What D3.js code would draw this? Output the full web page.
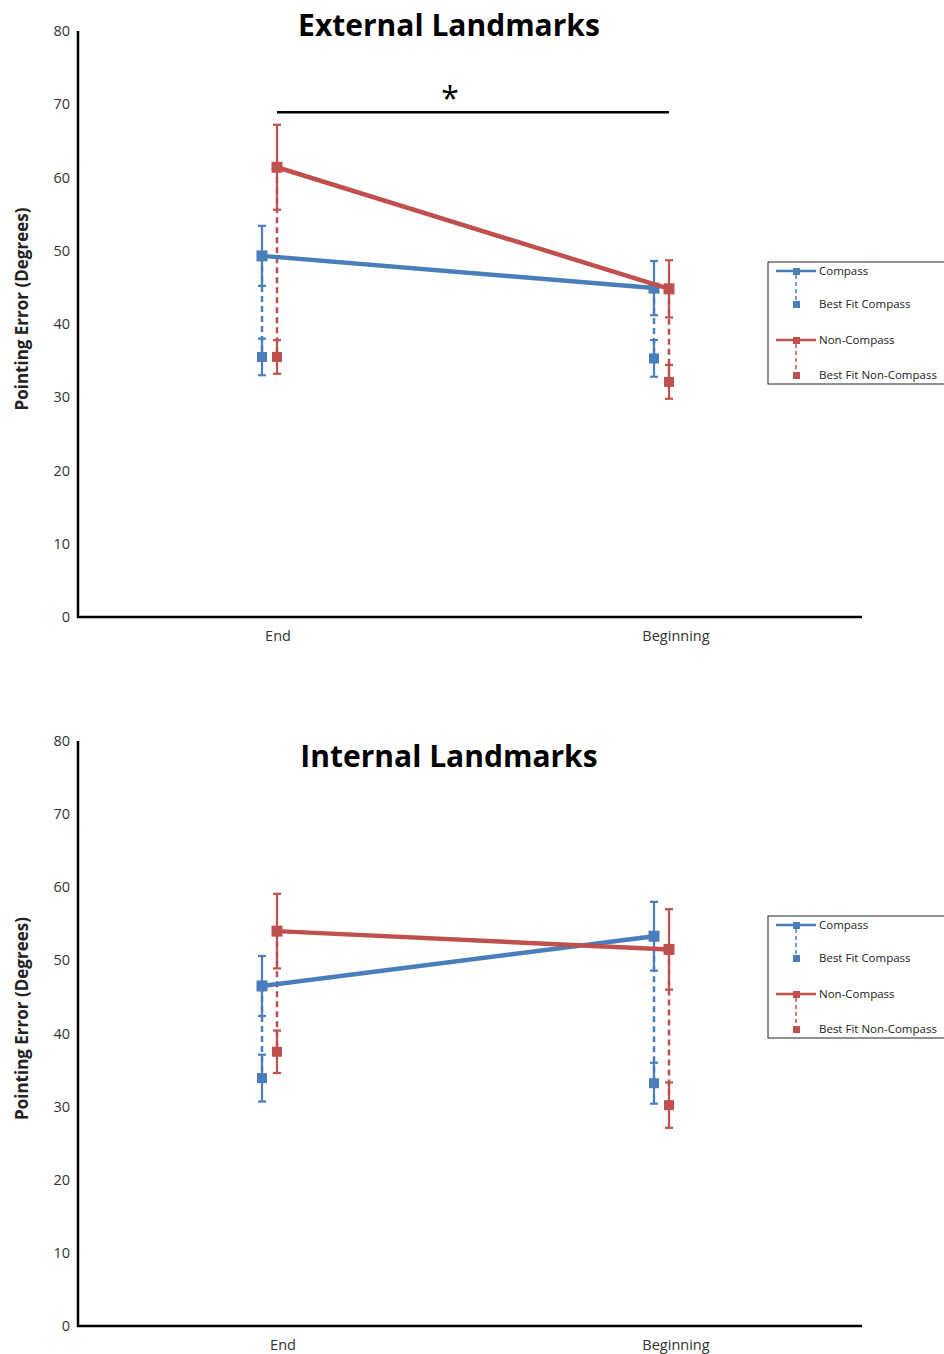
<!DOCTYPE html>
<html>
<head>
<meta charset="utf-8">
<script src="https://cdn.jsdelivr.net/npm/d3@7"></script>
<style>
  body { margin: 0; background: #fff; }
  text { font-family: "Open Sans", "Noto Sans", sans-serif; }
</style>
</head>
<body>
<div id="chart"></div>
<script>
// values
var categories = ['End', 'Beginning'];
var yTicks = [0, 10, 20, 30, 40, 50, 60, 70, 80];
var legendNames = ['Compass', 'Best Fit Compass', 'Non-Compass', 'Best Fit Non-Compass'];

var extCompass = [49.3, 44.9];
var extCompassErr = [4.1, 3.7];
var extCompassFit = [35.5, 35.3];
var extCompassFitErr = [2.5, 2.5];
var extNonCompass = [61.4, 44.8];
var extNonCompassErr = [5.8, 3.9];
var extNonCompassFit = [35.5, 32.1];
var extNonCompassFitErr = [2.3, 2.3];

var intCompass = [46.5, 53.3];
var intCompassErr = [4.1, 4.7];
var intCompassFit = [33.9, 33.2];
var intCompassFitErr = [3.2, 2.8];
var intNonCompass = [54.0, 51.5];
var intNonCompassErr = [5.1, 5.5];
var intNonCompassFit = [37.5, 30.2];
var intNonCompassFitErr = [2.9, 3.1];

var sigLevel = 68.9;  // the '*' bar in the top panel

var blue = '#4a7ebb', red = '#c0504d';

var svg = d3.select('#chart').append('svg')
  .attr('width', 944)
  .attr('height', 1354);

function panel(opts){
  var g = svg.append('g');
  var y = d3.scaleLinear().domain([0, 80]).range([opts.bottom, opts.top]);
  var x = d3.scalePoint().domain(categories).range([78, 862]).padding(0.5);

  // axes
  g.append('line').attr('x1', 78).attr('x2', 78)
    .attr('y1', y(80)).attr('y2', y(0) + 1)
    .attr('stroke', '#000').attr('stroke-width', 2.5);
  g.append('line').attr('x1', 77).attr('x2', 862)
    .attr('y1', y(0)).attr('y2', y(0))
    .attr('stroke', '#000').attr('stroke-width', 2.5);

  g.selectAll('text.ytick').data(yTicks).enter().append('text')
    .classed('ytick', true)
    .attr('x', 70).attr('y', function(d){return y(d);})
    .attr('dy', '0.35em').attr('text-anchor', 'end')
    .attr('font-size', 14.5).attr('fill', '#333')
    .text(function(d){return d;});

  g.selectAll('text.xtick').data(categories).enter().append('text')
    .classed('xtick', true)
    .attr('x', function(d){return x(d) + opts.labelShift[categories.indexOf(d)];})
    .attr('y', y(0) + 24)
    .attr('text-anchor', 'middle')
    .attr('font-size', 14.5).attr('fill', '#333')
    .text(function(d){return d;});

  g.append('text')
    .attr('transform', 'translate(28,' + ((y(0) + y(80)) / 2 - 15) + ') rotate(-90)')
    .attr('text-anchor', 'middle')
    .attr('font-size', 17).attr('font-weight', 'bold').attr('fill', '#222')
    .text('Pointing Error (Degrees)');

  g.append('text')
    .attr('x', 449).attr('y', opts.titleY)
    .attr('text-anchor', 'middle')
    .attr('font-size', 30).attr('font-weight', 'bold').attr('fill', '#000')
    .text(opts.title);

  // series: mean with error bars, dashed drop to best fit
  opts.series.forEach(function(s){
    categories.forEach(function(c, i){
      var cx = x(c) + s.dx;
      g.append('line').attr('x1', cx).attr('x2', cx)
        .attr('y1', y(s.mean[i])).attr('y2', y(s.fit[i]))
        .attr('stroke', s.color).attr('stroke-width', 2.5)
        .attr('stroke-dasharray', '6,4');
      [[s.mean[i], s.err[i]], [s.fit[i], s.fitErr[i]]].forEach(function(p){
        var lo = y(p[0] - p[1]), hi = y(p[0] + p[1]);
        g.append('line').attr('x1', cx).attr('x2', cx).attr('y1', lo).attr('y2', hi)
          .attr('stroke', s.color).attr('stroke-width', 2.2);
        [lo, hi].forEach(function(yy){
          g.append('line').attr('x1', cx - 4).attr('x2', cx + 4).attr('y1', yy).attr('y2', yy)
            .attr('stroke', s.color).attr('stroke-width', 2.2);
        });
      });
    });
  });
  opts.series.forEach(function(s){
    var line = d3.line()
      .x(function(d, i){return x(categories[i]) + s.dx;})
      .y(function(d){return y(d);});
    g.append('path').datum(s.mean).attr('d', line)
      .attr('fill', 'none').attr('stroke', s.color).attr('stroke-width', 4.5);
    g.selectAll(null).data(s.mean).enter().append('rect')
      .attr('x', function(d, i){return x(categories[i]) + s.dx - 5.5;})
      .attr('y', function(d){return y(d) - 5.5;})
      .attr('width', 11).attr('height', 11).attr('fill', s.color);
    g.selectAll(null).data(s.fit).enter().append('rect')
      .attr('x', function(d, i){return x(categories[i]) + s.dx - 5;})
      .attr('y', function(d){return y(d) - 5;})
      .attr('width', 10).attr('height', 10).attr('fill', s.color);
  });

  if (opts.sig) {
    var sx1 = x('End') + opts.series[1].dx, sx2 = x('Beginning') + opts.series[1].dx;
    g.append('line').attr('x1', sx1).attr('x2', sx2)
      .attr('y1', y(sigLevel)).attr('y2', y(sigLevel))
      .attr('stroke', '#000').attr('stroke-width', 2.5);
    g.append('text').attr('x', (sx1 + sx2) / 2 - 23).attr('y', y(sigLevel) - 2)
      .attr('text-anchor', 'middle').attr('font-size', 32).attr('fill', '#000')
      .text('*');
  }

  // legend
  var lg = g.append('g').attr('transform', 'translate(768,' + opts.legendY + ')');
  lg.append('rect').attr('x', 0).attr('y', 0).attr('width', 190).attr('height', 122)
    .attr('fill', '#fff').attr('stroke', '#222').attr('stroke-width', 1);
  var rows = [9, 42, 78, 113];
  legendNames.forEach(function(n, i){
    var col = i < 2 ? blue : red;
    var ry = rows[i];
    if (i % 2 === 0) {
      lg.append('line').attr('x1', 8).attr('x2', 48).attr('y1', ry).attr('y2', ry)
        .attr('stroke', col).attr('stroke-width', 2.5);
      lg.append('rect').attr('x', 25).attr('y', ry - 3).attr('width', 7).attr('height', 7).attr('fill', col);
      lg.append('line').attr('x1', 28).attr('x2', 28).attr('y1', ry + 4).attr('y2', rows[i + 1] - 4)
        .attr('stroke', col).attr('stroke-width', 1.5).attr('stroke-dasharray', '4,3');
    } else {
      lg.append('rect').attr('x', 25).attr('y', ry - 3).attr('width', 7).attr('height', 7).attr('fill', col);
    }
    lg.append('text').attr('x', 51).attr('y', ry).attr('dy', '0.35em')
      .attr('font-size', 11.5).attr('fill', '#222').text(n);
  });
}

panel({
  top: 31, bottom: 617, title: 'External Landmarks', titleY: 36, legendY: 262,
  labelShift: [4, 10], sig: true,
  series: [
    {color: blue, dx: -12, mean: extCompass, err: extCompassErr, fit: extCompassFit, fitErr: extCompassFitErr},
    {color: red, dx: 3, mean: extNonCompass, err: extNonCompassErr, fit: extNonCompassFit, fitErr: extNonCompassFitErr}
  ]
});

panel({
  top: 741, bottom: 1326, title: 'Internal Landmarks', titleY: 767, legendY: 916,
  labelShift: [9, 10], sig: false,
  series: [
    {color: blue, dx: -12, mean: intCompass, err: intCompassErr, fit: intCompassFit, fitErr: intCompassFitErr},
    {color: red, dx: 3, mean: intNonCompass, err: intNonCompassErr, fit: intNonCompassFit, fitErr: intNonCompassFitErr}
  ]
});
</script>
</body>
</html>
